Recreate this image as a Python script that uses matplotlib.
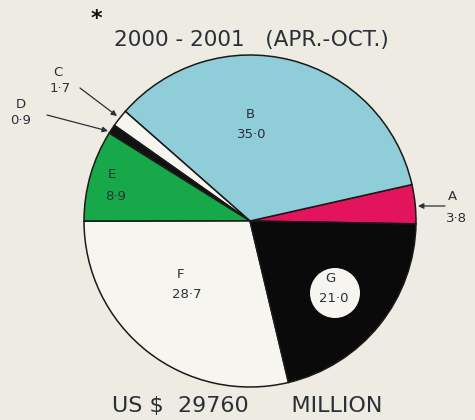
import matplotlib as mpl; mpl.use('Agg')
import matplotlib.pyplot as plt
from matplotlib.patches import Circle

# share of total (%), slices counter-clockwise from the right
labels = ['A', 'B', 'C', 'D', 'E', 'F', 'G']
shares = [3.8, 35.0, 1.7, 0.9, 8.9, 28.7, 21.0]
colors = ['#e3145c', '#8fcdd8', '#f6f5ef', '#111111', '#17a84a', '#f6f5ef', '#0a0a0a']
title = '2000 - 2001   (APR.-OCT.)'
total = 'US $  29760      MILLION'

BG = '#eeece2'
INK = '#2a3038'

fig = plt.figure(figsize=(4.75, 4.2), dpi=100, facecolor=BG)
ax = fig.add_axes([0, 0, 1, 1])

H = 420
cx, cy, R = 250, H - 221, 166
ax.pie(shares, colors=colors, startangle=-1, counterclock=True,
       center=(cx, cy), radius=R, frame=True,
       wedgeprops=dict(edgecolor='#1a1a1a', linewidth=1.1))
ax.set_xlim(0, 475); ax.set_ylim(0, 420)
ax.set_aspect('equal'); ax.axis('off')

# white disc holding the G label
ax.add_patch(Circle((335, H - 293), 25, facecolor='#f6f5ef', edgecolor='none', zorder=3))

def val(v):
    return f'{v:.1f}'.replace('.', '\u00b7')

lab = dict(ha='center', va='center', fontsize=9.5, color=INK, zorder=4)
inside = {'B': (250, 114, 252, 134), 'E': (112, 174, 116, 197),
          'F': (180, 275, 187, 295), 'G': (330, 279, 334, 299)}
for k, (x1, y1, x2, y2) in inside.items():
    v = shares[labels.index(k)]
    ax.text(x1, H - y1, k, **lab)
    ax.text(x2, H - y2, val(v), **lab)

# outside labels with arrows
outside = {'A': (452, 197, 456, 218, (445, 206), (418, 206)),
           'C': (58, 73, 60, 89, (80, 88), (117, 116)),
           'D': (21, 104, 21, 121, (47, 115), (108, 131))}
for k, (x1, y1, x2, y2, p0, p1) in outside.items():
    v = shares[labels.index(k)]
    ax.text(x1, H - y1, k, **lab)
    ax.text(x2, H - y2, val(v), **lab)
    ax.annotate('', xy=(p1[0], H - p1[1]), xytext=(p0[0], H - p0[1]),
                arrowprops=dict(arrowstyle='-|>', color=INK, lw=0.9,
                                mutation_scale=8, shrinkA=0, shrinkB=0))

ax.text(96, H - 19, '*', fontsize=16, fontweight='bold', color='#111111', ha='center', va='center')
ax.text(251, H - 40, title, fontsize=15.5, color=INK, ha='center', va='center')
ax.text(247, H - 406, total, fontsize=16, color=INK, ha='center', va='center')

fig.savefig('out.png', dpi=100, facecolor=BG)
